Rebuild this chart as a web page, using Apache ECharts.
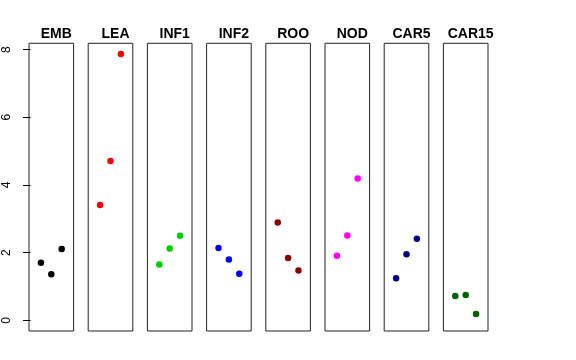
<!DOCTYPE html>
<html>
<head>
<meta charset="utf-8">
<script src="https://cdn.jsdelivr.net/npm/echarts@6/dist/echarts.min.js"></script>
<style>html,body{margin:0;padding:0;background:#fff}#c{width:576px;height:360px}</style>
</head>
<body>
<div id="c"></div>
<script>
const panels = ['EMB','LEA','INF1','INF2','ROO','NOD','CAR5','CAR15'];
const EMB = [1.70, 1.36, 2.11];
const LEA = [3.41, 4.71, 7.87];
const INF1 = [1.65, 2.12, 2.50];
const INF2 = [2.14, 1.80, 1.38];
const ROO = [2.89, 1.84, 1.47];
const NOD = [1.91, 2.51, 4.19];
const CAR5 = [1.24, 1.95, 2.41];
const CAR15 = [0.72, 0.75, 0.19];
const values = [EMB, LEA, INF1, INF2, ROO, NOD, CAR5, CAR15];
const colors = ['#000000','#FF0000','#00CD00','#0000FF','#8B0000','#FF00FF','#00008B','#006400'];
const yTicks = [0, 2, 4, 6, 8];
const positions = [1, 2, 3];

const chart = echarts.init(document.getElementById('c'), null, {renderer:'canvas'});
const font = 'Liberation Sans, Arial, Helvetica, sans-serif';
const grids = [], xAxes = [], yAxes = [], series = [], titles = [];
const gLeft0 = 29, gStep = 59.2, gW = 44.6, gTop = 43.3, gH = 287.7;
panels.forEach((name, i) => {
  const l = gLeft0 + gStep * i;
  grids.push({left: l, top: gTop, width: gW, height: gH, show: true, borderColor: '#222', borderWidth: 1, backgroundColor: 'transparent'});
  xAxes.push({type: 'value', gridIndex: i, min: -0.15, max: 4.15, show: false});
  yAxes.push({
    type: 'value', gridIndex: i, min: -0.315, max: 8.185,
    show: i === 0,
    splitLine: {show: false},
    axisLine: {show: false},
    axisTick: {show: true, length: 7.5, customValues: yTicks, lineStyle: {color: '#000'}},
    axisLabel: {show: true, customValues: yTicks, rotate: 90, margin: 16, fontSize: 12, color: '#000', fontFamily: font}
  });
  series.push({
    type: 'scatter', xAxisIndex: i, yAxisIndex: i,
    symbol: 'circle', symbolSize: 6.5,
    itemStyle: {color: colors[i], opacity: 1},
    data: values[i].map((v, k) => [positions[k], v]),
    silent: true
  });
  titles.push({
    text: name, left: l + gW / 2, top: 22, textAlign: 'center',
    textStyle: {fontSize: 14, fontWeight: 'bold', color: '#000', fontFamily: font}
  });
});
chart.setOption({
  animation: false,
  backgroundColor: '#fff',
  title: titles,
  grid: grids,
  xAxis: xAxes,
  yAxis: yAxes,
  series: series
});
</script>
</body>
</html>
